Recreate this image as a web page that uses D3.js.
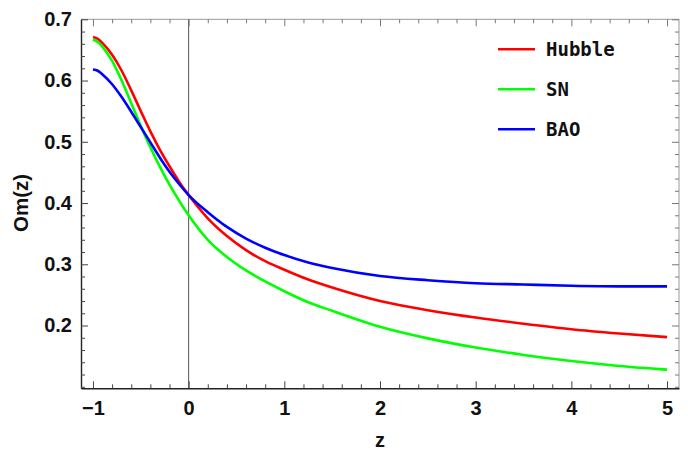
<!DOCTYPE html>
<html><head><meta charset="utf-8">
<script src="https://cdn.jsdelivr.net/npm/d3@7"></script>
<style>html,body{margin:0;padding:0;background:#fff;}svg{display:block;}</style>
</head><body>
<svg id="chart" width="688" height="451"></svg>
<script>
const zValues = [-1,-0.95,-0.9,-0.8,-0.7,-0.6,-0.5,-0.4,-0.3,-0.2,-0.1,0,0.2,0.4,0.6,0.8,1.0,1.25,1.5,2.0,2.5,3.0,3.5,4.0,4.5,5.0];
const hubble = [0.671,0.668,0.661,0.642,0.616,0.584,0.550,0.517,0.487,0.460,0.435,0.413,0.375,0.346,0.323,0.305,0.291,0.275,0.262,0.240,0.225,0.213,0.203,0.194,0.187,0.181];
const sn     = [0.667,0.663,0.655,0.632,0.600,0.563,0.526,0.491,0.459,0.430,0.404,0.380,0.340,0.312,0.290,0.272,0.256,0.238,0.224,0.198,0.179,0.164,0.152,0.142,0.134,0.128];
const bao    = [0.618,0.616,0.610,0.594,0.573,0.549,0.524,0.499,0.474,0.451,0.431,0.413,0.385,0.361,0.342,0.327,0.315,0.303,0.294,0.281,0.274,0.269,0.267,0.265,0.264,0.264];
const seriesNames = ["Hubble","SN","BAO"];
const seriesColors = ["#ff0000","#00ff00","#0000ff"];
const xTicks = [-1,0,1,2,3,4,5];
const yTicks = [0.2,0.3,0.4,0.5,0.6,0.7];

const svg = d3.select("#chart");
const L=81, R=679, T=19.3, B=388.3;
const x = d3.scaleLinear().domain([-1.125,5.125]).range([L,R]);
const y = d3.scaleLinear().domain([0.0975,0.7]).range([B,T]);
const FONT = "Liberation Sans, Arial, sans-serif";

// frame
const fr = svg.append("g");
fr.append("line").attr("x1",L).attr("x2",R).attr("y1",T).attr("y2",T).attr("stroke","#999").attr("stroke-width",1);
fr.append("line").attr("x1",R).attr("x2",R).attr("y1",T).attr("y2",B).attr("stroke","#999").attr("stroke-width",1);

// zero axis
svg.append("line").attr("x1",x(0)).attr("x2",x(0)).attr("y1",T).attr("y2",B).attr("stroke","#555").attr("stroke-width",1);

const xMinor = d3.range(-1.0,5.01,0.2).map(v=>+v.toFixed(2)).filter(v=>!xTicks.some(t=>Math.abs(t-v)<1e-6));
const yMinor = d3.range(0.1,0.701,0.02).map(v=>+v.toFixed(3)).filter(v=>!yTicks.some(t=>Math.abs(t-v)<1e-6));

// bottom axis
const gx = svg.append("g").attr("transform",`translate(0,${B})`)
  .call(d3.axisBottom(x).tickValues(xTicks).tickSizeInner(-7).tickSizeOuter(0).tickPadding(13).tickFormat(d=>d<0?"\u2212"+Math.abs(d):d));
gx.select(".domain").attr("stroke","#222").attr("stroke-width",1.4);
gx.selectAll(".tick line").attr("stroke","#444");
gx.selectAll("text").attr("font-family",FONT).attr("font-weight","bold").attr("font-size",20).attr("fill","#111");
svg.append("g").attr("transform",`translate(0,${B})`)
  .call(d3.axisBottom(x).tickValues(xMinor).tickSizeInner(-4).tickSizeOuter(0).tickFormat(""))
  .call(g=>{g.select(".domain").remove();g.selectAll(".tick line").attr("stroke","#444");});
// top ticks
svg.append("g").attr("transform",`translate(0,${T})`)
  .call(d3.axisTop(x).tickValues(xTicks).tickSizeInner(-7).tickSizeOuter(0).tickFormat(""))
  .call(g=>{g.select(".domain").remove();g.selectAll(".tick line").attr("stroke","#777");});
svg.append("g").attr("transform",`translate(0,${T})`)
  .call(d3.axisTop(x).tickValues(xMinor).tickSizeInner(-4).tickSizeOuter(0).tickFormat(""))
  .call(g=>{g.select(".domain").remove();g.selectAll(".tick line").attr("stroke","#777");});

// left axis
const gy = svg.append("g").attr("transform",`translate(${L},0)`)
  .call(d3.axisLeft(y).tickValues(yTicks).tickSizeInner(-7).tickSizeOuter(0).tickPadding(9).tickFormat(d3.format(".1f")));
gy.select(".domain").attr("stroke","#222").attr("stroke-width",1.4);
gy.selectAll(".tick line").attr("stroke","#444");
gy.selectAll("text").attr("font-family",FONT).attr("font-weight","bold").attr("font-size",20).attr("fill","#111");
svg.append("g").attr("transform",`translate(${L},0)`)
  .call(d3.axisLeft(y).tickValues(yMinor).tickSizeInner(-4).tickSizeOuter(0).tickFormat(""))
  .call(g=>{g.select(".domain").remove();g.selectAll(".tick line").attr("stroke","#444");});
// right ticks
svg.append("g").attr("transform",`translate(${R},0)`)
  .call(d3.axisRight(y).tickValues(yTicks).tickSizeInner(-7).tickSizeOuter(0).tickFormat(""))
  .call(g=>{g.select(".domain").remove();g.selectAll(".tick line").attr("stroke","#777");});
svg.append("g").attr("transform",`translate(${R},0)`)
  .call(d3.axisRight(y).tickValues(yMinor).tickSizeInner(-4).tickSizeOuter(0).tickFormat(""))
  .call(g=>{g.select(".domain").remove();g.selectAll(".tick line").attr("stroke","#777");});

// axis labels
svg.append("text").attr("x",380).attr("y",447).attr("text-anchor","middle")
  .attr("font-family",FONT).attr("font-weight","bold").attr("font-size",20).attr("fill","#111").text("z");
svg.append("text").attr("transform","translate(28,203) rotate(-90)").attr("text-anchor","middle")
  .attr("font-family",FONT).attr("font-weight","bold").attr("font-size",20.5).attr("fill","#111").text("Om(z)");

// curves
const line = d3.line().x(d=>x(d[0])).y(d=>y(d[1])).curve(d3.curveMonotoneX);
[hubble,sn,bao].forEach((vals,i)=>{
  svg.append("path").datum(zValues.map((z,j)=>[z,vals[j]]))
    .attr("d",line).attr("fill","none").attr("stroke",seriesColors[i]).attr("stroke-width",2.6);
});

// legend
const leg = svg.append("g");
seriesNames.forEach((n,i)=>{
  const cy = 49.3 + i*40;
  leg.append("line").attr("x1",498).attr("x2",535).attr("y1",cy).attr("y2",cy).attr("stroke",seriesColors[i]).attr("stroke-width",2.6);
  leg.append("text").attr("x",546).attr("y",cy+7).attr("font-family","DejaVu Sans Mono, monospace").attr("font-weight","bold").attr("font-size",19).attr("fill","#111").text(n);
});
</script>
</body></html>
